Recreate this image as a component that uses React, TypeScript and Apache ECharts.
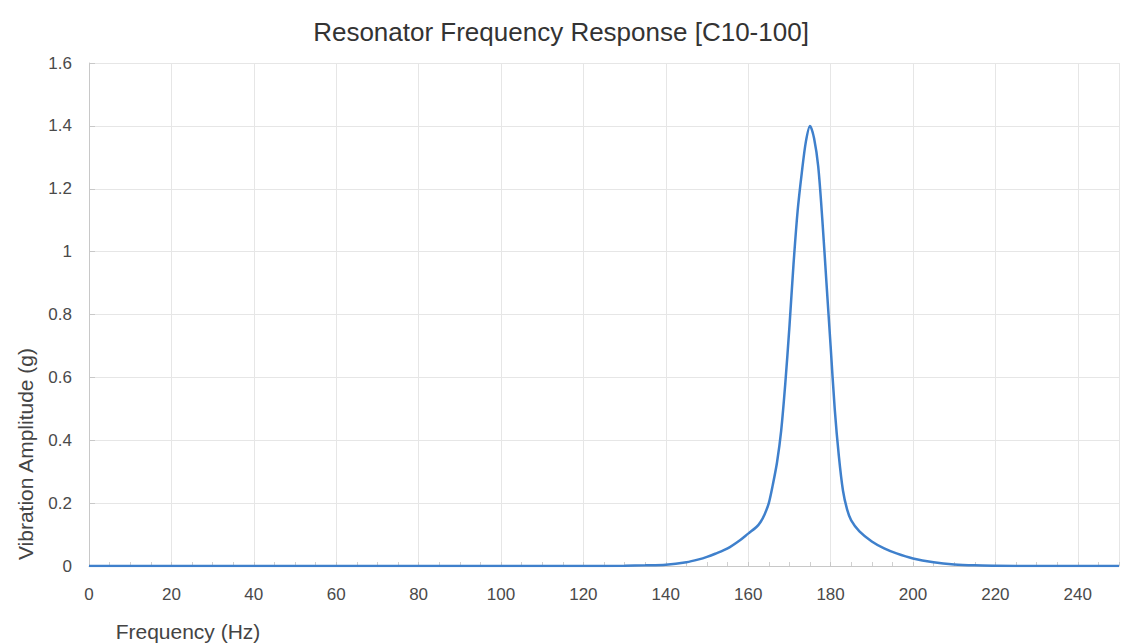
import React, { useEffect, useRef } from "react";
import * as echarts from "echarts";

const titleText = "Resonator Frequency Response [C10-100]";
const xAxisName = "Frequency (Hz)";
const yAxisName = "Vibration Amplitude (g)";

const frequencies = [
  0, 20, 40, 60, 80, 100, 120, 130, 135, 140, 145, 148, 150, 152, 155, 158, 160, 162, 163, 164,
  165, 166, 167, 168, 169, 170, 171, 172, 173, 174, 175, 176, 177, 178, 179, 180, 181, 182, 183,
  184, 185, 187, 190, 193, 196, 200, 205, 210, 215, 220, 230, 250,
];
const amplitudes = [
  0, 0, 0, 0, 0, 0, 0, 0.001, 0.002, 0.004, 0.012, 0.021, 0.029, 0.039, 0.056, 0.082, 0.103, 0.124,
  0.14, 0.165, 0.2, 0.26, 0.33, 0.43, 0.58, 0.76, 0.96, 1.13, 1.25, 1.35, 1.4, 1.36, 1.27, 1.1,
  0.9, 0.7, 0.5, 0.35, 0.24, 0.18, 0.145, 0.11, 0.078, 0.056, 0.04, 0.024, 0.012, 0.005, 0.002,
  0.001, 0, 0,
];

export default function App() {
  const ref = useRef<HTMLDivElement>(null);
  useEffect(() => {
    document.body.style.margin = "0";
    const chart = echarts.init(ref.current!, null, { renderer: "svg" });
    const font = "Arial, 'Liberation Sans', sans-serif";
    chart.setOption({
      animation: false,
      backgroundColor: "#ffffff",
      title: {
        text: titleText,
        left: "center",
        top: 14,
        textStyle: { fontFamily: font, fontSize: 26, fontWeight: "normal", color: "#333" },
      },
      grid: { left: 89, right: 2, top: 63, bottom: 78 },
      xAxis: {
        type: "value",
        min: 0,
        max: 250,
        interval: 20,
        axisLine: { show: true, lineStyle: { color: "#c8c8c8" } },
        axisTick: { show: true, inside: true, length: 4, lineStyle: { color: "#c8c8c8" } },
        minorTick: { show: true, splitNumber: 4, length: 4, lineStyle: { color: "#d0d0d0" } },
        splitLine: { show: true, lineStyle: { color: "#e6e6e6" } },
        axisLabel: {
          fontFamily: font,
          fontSize: 17,
          color: "#4a4a4a",
          margin: 20,
          formatter: (v: number) => (v <= 240 ? String(v) : ""),
        },
      },
      yAxis: {
        type: "value",
        min: 0,
        max: 1.6,
        interval: 0.2,
        axisLine: { show: true, lineStyle: { color: "#c8c8c8" } },
        axisTick: { show: true, inside: true, length: 6, lineStyle: { color: "#c8c8c8" } },
        splitLine: { show: true, lineStyle: { color: "#e6e6e6" } },
        axisLabel: {
          fontFamily: font,
          fontSize: 17,
          color: "#4a4a4a",
          margin: 17,
          formatter: (v: number) => String(Math.round(v * 10) / 10),
        },
      },
      graphic: [
        {
          type: "text",
          x: 25,
          y: 454,
          rotation: Math.PI / 2,
          style: {
            text: yAxisName,
            fontFamily: font,
            fontSize: 21,
            fill: "#444",
            align: "center",
            verticalAlign: "middle",
          },
        },
        {
          type: "text",
          x: 188,
          y: 631,
          style: {
            text: xAxisName,
            fontFamily: font,
            fontSize: 21,
            fill: "#444",
            align: "center",
            verticalAlign: "middle",
          },
        },
      ],
      series: [
        {
          type: "line",
          data: frequencies.map((f, i) => [f, amplitudes[i]]),
          smooth: 0.3,
          showSymbol: false,
          lineStyle: { color: "#3f80cc", width: 2.5 },
          z: 5,
        },
      ],
    });
    return () => chart.dispose();
  }, []);
  return <div ref={ref} style={{ width: 1122, height: 644 }} />;
}
